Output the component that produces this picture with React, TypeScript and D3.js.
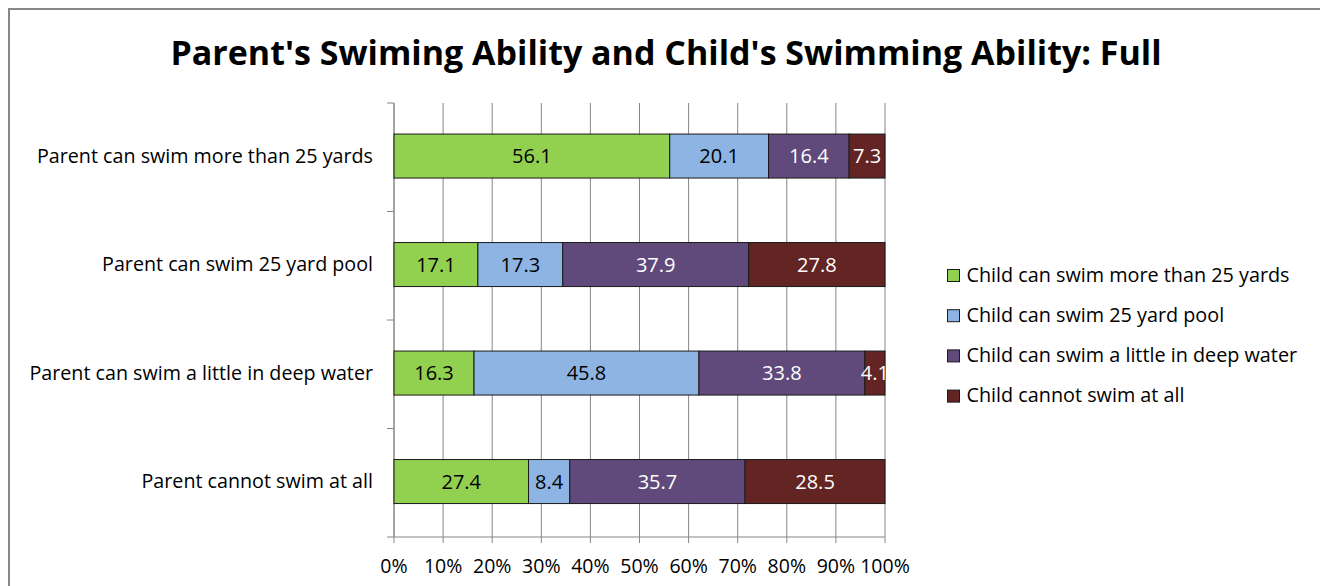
import React from "react";
import * as d3 from "d3";

const categories = [
  "Parent can swim more than 25 yards",
  "Parent can swim 25 yard pool",
  "Parent can swim a little in deep water",
  "Parent cannot swim at all",
];

const seriesNames = [
  "Child can swim more than 25 yards",
  "Child can swim 25 yard pool",
  "Child can swim a little in deep water",
  "Child cannot swim at all",
];

const moreThan25 = [56.1, 17.1, 16.3, 27.4];
const pool25 = [20.1, 17.3, 45.8, 8.4];
const littleDeep = [16.4, 37.9, 33.8, 35.7];
const cannotSwim = [7.3, 27.8, 4.1, 28.5];

const xTicks = [0, 10, 20, 30, 40, 50, 60, 70, 80, 90, 100];

const colors = ["#92D050", "#8DB4E2", "#604A7B", "#632523"];
const labelColors = ["#000000", "#000000", "#FFFFFF", "#FFFFFF"];

const FONT = "'Open Sans', Lato, sans-serif";

export default function App() {
  const W = 1320;
  const H = 586;
  const left = 394;
  const right = 885;
  const top = 103;
  const bottom = 537;

  const x = d3.scaleLinear().domain([0, 100]).range([left, right]);
  const y = d3.scaleBand<string>().domain(categories).range([top, bottom]).padding(0);
  const step = y.step();
  const barH = step * (44 / 108.5);

  const seriesValues = [moreThan25, pool25, littleDeep, cannotSwim];
  const rows = categories.map((c, i) => {
    const o: Record<string, number | string> = { cat: c };
    seriesNames.forEach((s, j) => {
      o[s] = seriesValues[j][i];
    });
    return o;
  });
  const stack = d3.stack<any>().keys(seriesNames).offset(d3.stackOffsetExpand);
  const stacked = stack(rows);

  const legendX = 947;
  const legendY0 = 275.5;
  const legendStep = 40.2;

  return (
    <svg width={W} height={H} style={{ display: "block", position: "absolute", left: 0, top: 0 }}>
      <rect x={0} y={0} width={W} height={H} fill="#fff" />
      <path d={`M9,${H + 5} V9 H${W + 5}`} fill="none" stroke="#868686" strokeWidth={2} />
      <text
        x={666}
        y={64.5}
        textAnchor="middle"
        fontFamily={FONT}
        fontWeight={700}
        fontSize={34}
        fill="#000"
      >
        Parent's Swiming Ability and Child's Swimming Ability: Full
      </text>

      {/* vertical gridlines */}
      {xTicks.map((t) => (
        <line
          key={`g${t}`}
          x1={x(t)}
          x2={x(t)}
          y1={top}
          y2={bottom + 6}
          stroke="#868686"
          strokeWidth={1}
        />
      ))}
      {/* category axis */}
      <line x1={left} x2={left} y1={top} y2={bottom} stroke="#868686" strokeWidth={1} />
      <line x1={left - 7} x2={right} y1={bottom} y2={bottom} stroke="#868686" strokeWidth={1} />
      {categories.map((c, i) => (
        <line
          key={`t${i}`}
          x1={left - 7}
          x2={left}
          y1={(y(c) as number)}
          y2={(y(c) as number)}
          stroke="#868686"
          strokeWidth={1}
        />
      ))}

      <defs>
        <clipPath id="plotClip">
          <rect x={left} y={top} width={right - left} height={bottom - top} />
        </clipPath>
      </defs>

      {/* stacked bars */}
      {stacked.map((layer, j) => (
        <g key={layer.key}>
          {layer.map((d, i) => {
            const cy = (y(categories[i]) as number) + step / 2 - 1.2;
            const x0 = x(d[0] * 100);
            const x1 = x(d[1] * 100);
            return (
              <rect
                key={i}
                x={x0}
                y={cy - barH / 2}
                width={x1 - x0}
                height={barH}
                fill={colors[j]}
                stroke="#1a1a1a"
                strokeWidth={1}
              />
            );
          })}
        </g>
      ))}
      <g clipPath="url(#plotClip)">
        {stacked.map((layer, j) => (
          <g key={`l${layer.key}`}>
            {layer.map((d, i) => {
              const cy = (y(categories[i]) as number) + step / 2 - 1.2;
              const x0 = x(d[0] * 100);
              const x1 = x(d[1] * 100);
              return (
                <text
                  key={i}
                  x={(x0 + x1) / 2}
                  y={cy}
                  dy="0.35em"
                  textAnchor="middle"
                  fontFamily={FONT}
                  fontSize={20}
                  fill={labelColors[j]}
                >
                  {seriesValues[j][i].toFixed(1)}
                </text>
              );
            })}
          </g>
        ))}
      </g>

      {/* category labels */}
      {categories.map((c, i) => (
        <text
          key={`c${i}`}
          x={373}
          y={(y(c) as number) + step / 2 - 1.2}
          dy="0.35em"
          textAnchor="end"
          fontFamily={FONT}
          fontSize={19.7}
          fill="#000"
        >
          {c}
        </text>
      ))}

      {/* x tick labels */}
      {xTicks.map((t) => (
        <text
          key={`x${t}`}
          x={x(t)}
          y={572.5}
          textAnchor="middle"
          fontFamily={FONT}
          fontSize={19.5}
          fill="#000"
        >
          {`${t}%`}
        </text>
      ))}

      {/* legend */}
      {seriesNames.map((s, j) => (
        <g key={`lg${j}`} transform={`translate(${legendX},${legendY0 + j * legendStep})`}>
          <rect x={0.5} y={-6} width={12} height={12} fill={colors[j]} stroke="#1a1a1a" strokeWidth={1} />
          <text x={19.5} y={6.2} fontFamily={FONT} fontSize={19.8} fill="#000">
            {s}
          </text>
        </g>
      ))}
    </svg>
  );
}
